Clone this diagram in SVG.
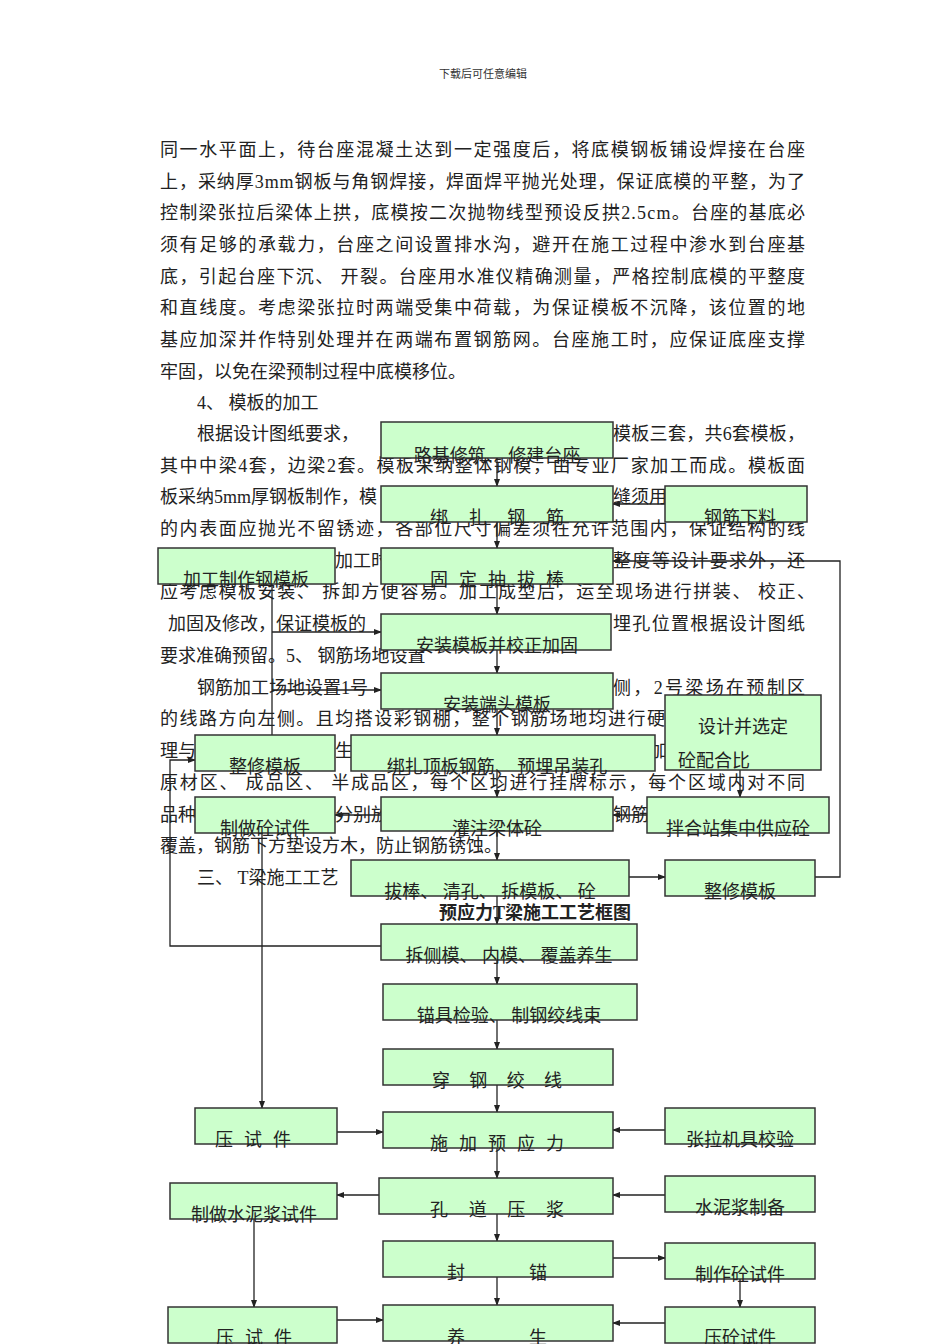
<svg xmlns="http://www.w3.org/2000/svg" width="950" height="1344" viewBox="0 0 950 1344">
<style>
.t{font-family:"Liberation Serif","Noto Sans CJK SC",serif;font-size:18px;fill:#222}
.b rect{fill:#ccffcc;stroke:#333;stroke-width:1.5}
.b text{font-family:"Liberation Serif","Noto Sans CJK SC",serif;font-size:18px;fill:#222;text-anchor:middle}
.c path{fill:none;stroke:#222;stroke-width:1.3}
</style>
<defs><marker id="a" markerWidth="8" markerHeight="8" refX="7" refY="4" orient="auto" markerUnits="userSpaceOnUse"><path d="M0,1 L8,4 L0,7 z" fill="#222"/></marker></defs>
<rect width="950" height="1344" fill="#fff"/>
<text x="483" y="78" style="font-family:'Noto Sans CJK SC',sans-serif;font-size:11px;fill:#333;text-anchor:middle">下载后可任意编辑</text>
<g class="t">
<text x="160" y="156" textLength="645" lengthAdjust="spacing">同一水平面上，待台座混凝土达到一定强度后，将底模钢板铺设焊接在台座</text>
<text x="160" y="188" textLength="645" lengthAdjust="spacing">上，采纳厚3mm钢板与角钢焊接，焊面焊平抛光处理，保证底模的平整，为了</text>
<text x="160" y="219" textLength="645" lengthAdjust="spacing">控制梁张拉后梁体上拱，底模按二次抛物线型预设反拱2.5cm。台座的基底必</text>
<text x="160" y="251" textLength="645" lengthAdjust="spacing">须有足够的承载力，台座之间设置排水沟，避开在施工过程中渗水到台座基</text>
<text x="160" y="283" textLength="645" lengthAdjust="spacing">底，引起台座下沉、 开裂。台座用水准仪精确测量，严格控制底模的平整度</text>
<text x="160" y="314" textLength="645" lengthAdjust="spacing">和直线度。考虑梁张拉时两端受集中荷载，为保证模板不沉降，该位置的地</text>
<text x="160" y="346" textLength="645" lengthAdjust="spacing">基应加深并作特别处理并在两端布置钢筋网。台座施工时，应保证底座支撑</text>
<text x="160" y="378">牢固，以免在梁预制过程中底模移位。</text>
<text x="197" y="409">4、 模板的加工</text>
<text x="197" y="440">根据设计图纸要求，</text>
<text x="613" y="440" textLength="192" lengthAdjust="spacing">模板三套，共6套模板，</text>
<text x="160" y="472" textLength="645" lengthAdjust="spacing">其中中梁4套，边梁2套。模板采纳整体钢模，由专业厂家加工而成。模板面</text>
<text x="160" y="503">板采纳5mm厚钢板制作，模</text>
<text x="613" y="503">缝须用</text>
<text x="160" y="535" textLength="645" lengthAdjust="spacing">的内表面应抛光不留锈迹，各部位尺寸偏差须在允许范围内，保证结构的线</text>
<text x="335" y="567">加工时</text>
<text x="613" y="567" textLength="192" lengthAdjust="spacing">整度等设计要求外，还</text>
<text x="160" y="598" textLength="655" lengthAdjust="spacing">应考虑模板安装、 拆卸方便容易。加工成型后，运至现场进行拼装、 校正、</text>
<text x="168" y="630">加固及修改，保证模板的</text>
<text x="613" y="630" textLength="192" lengthAdjust="spacing">埋孔位置根据设计图纸</text>
<text x="160" y="662">要求准确预留。5、 钢筋场地设置</text>
<text x="197" y="694">钢筋加工场地设置1号</text>
<text x="613" y="694" textLength="192" lengthAdjust="spacing">侧，2号梁场在预制区</text>
<text x="160" y="725" textLength="505" lengthAdjust="spacing">的线路方向左侧。且均搭设彩钢棚，整个钢筋场地均进行硬</text>
<text x="160" y="757">理与</text>
<text x="335" y="757">生</text>
<text x="650" y="757">加</text>
<text x="160" y="789" textLength="645" lengthAdjust="spacing">原材区、 成品区、 半成品区，每个区均进行挂牌标示，每个区域内对不同</text>
<text x="160" y="821">品种</text>
<text x="335" y="821">分别放</text>
<text x="613" y="821">钢筋</text>
<text x="160" y="852">覆盖，钢筋下方垫设方木，防止钢筋锈蚀。</text>
<text x="197" y="884">三、 T梁施工工艺</text>
<text x="535" y="919" style="font-weight:bold;text-anchor:middle">预应力T梁施工工艺框图</text>
</g>
<g class="c">
<path d="M497,458V486" marker-end="url(#a)"/>
<path d="M497,522V548" marker-end="url(#a)"/>
<path d="M497,584V614" marker-end="url(#a)"/>
<path d="M497,650V673" marker-end="url(#a)"/>
<path d="M497,709V735" marker-end="url(#a)"/>
<path d="M497,771V797" marker-end="url(#a)"/>
<path d="M497,831V860" marker-end="url(#a)"/>
<path d="M497,896V924" marker-end="url(#a)"/>
<path d="M497,960V984" marker-end="url(#a)"/>
<path d="M497,1020V1049" marker-end="url(#a)"/>
<path d="M497,1085V1112" marker-end="url(#a)"/>
<path d="M497,1148V1178" marker-end="url(#a)"/>
<path d="M497,1214V1241" marker-end="url(#a)"/>
<path d="M497,1277V1305" marker-end="url(#a)"/>
<path d="M665,504H613" marker-end="url(#a)"/>
<path d="M272,584V735"/>
<path d="M272,632H381" marker-end="url(#a)"/>
<path d="M272,690H381" marker-end="url(#a)"/>
<path d="M381,946H170V760H195" marker-end="url(#a)"/>
<path d="M262,833V1108" marker-end="url(#a)"/>
<path d="M381,815H335" marker-end="url(#a)"/>
<path d="M647,815H613" marker-end="url(#a)"/>
<path d="M740,770V797" marker-end="url(#a)"/>
<path d="M629,877H665" marker-end="url(#a)"/>
<path d="M815,877H840V561H613" marker-end="url(#a)"/>
<path d="M337,1132H383" marker-end="url(#a)"/>
<path d="M665,1130H613" marker-end="url(#a)"/>
<path d="M379,1195H337" marker-end="url(#a)"/>
<path d="M665,1195H613" marker-end="url(#a)"/>
<path d="M254,1219V1307" marker-end="url(#a)"/>
<path d="M613,1258H665" marker-end="url(#a)"/>
<path d="M740,1279V1307" marker-end="url(#a)"/>
<path d="M337,1320H383" marker-end="url(#a)"/>
<path d="M665,1323H613" marker-end="url(#a)"/>
</g>
<g class="b">
<g id="n1"><rect x="381" y="422" width="232" height="36"/><text x="497" y="462">路基修筑、 修建台座</text></g>
<g id="n2"><rect x="381" y="486" width="232" height="36"/><text x="497" y="524" textLength="134" lengthAdjust="spacing">绑 扎 钢 筋</text></g>
<g id="n3"><rect x="665" y="486" width="142" height="36"/><text x="740" y="524">钢筋下料</text></g>
<g id="n4"><rect x="158" y="548" width="177" height="36"/><text x="246" y="586">加工制作钢模板</text></g>
<g id="n5"><rect x="381" y="548" width="232" height="36"/><text x="497" y="586" textLength="134" lengthAdjust="spacing">固 定 抽 拔 棒</text></g>
<g id="n6"><rect x="381" y="614" width="230" height="36"/><text x="497" y="652">安装模板并校正加固</text></g>
<g id="n7"><rect x="381" y="673" width="232" height="36"/><text x="497" y="711">安装端头模板</text></g>
<g id="n8"><rect x="665" y="695" width="156" height="75"/><text x="743" y="733">设计并选定</text><text x="714" y="767">砼配合比</text></g>
<g id="n9"><rect x="195" y="735" width="140" height="36"/><text x="265" y="773">整修模板</text></g>
<g id="n10"><rect x="351" y="735" width="304" height="36"/><text x="497" y="773">绑扎顶板钢筋、 预埋吊装孔</text></g>
<g id="n11"><rect x="195" y="797" width="140" height="36"/><text x="265" y="835">制做砼试件</text></g>
<g id="n12"><rect x="381" y="797" width="232" height="34"/><text x="497" y="835">灌注梁体砼</text></g>
<g id="n13"><rect x="647" y="797" width="182" height="36"/><text x="738" y="835">拌合站集中供应砼</text></g>
<g id="n14"><rect x="351" y="860" width="278" height="36"/><text x="490" y="898">拔棒、 清孔、 拆模板、 砼</text></g>
<g id="n15"><rect x="665" y="860" width="150" height="36"/><text x="740" y="898">整修模板</text></g>
<g id="n16"><rect x="381" y="924" width="256" height="36"/><text x="509" y="962">拆侧模、 内模、 覆盖养生</text></g>
<g id="n17"><rect x="383" y="984" width="254" height="36"/><text x="509" y="1022">锚具检验、 制钢绞线束</text></g>
<g id="n18"><rect x="383" y="1049" width="230" height="36"/><text x="497" y="1087" textLength="130" lengthAdjust="spacing">穿 钢 绞 线</text></g>
<g id="n19"><rect x="195" y="1108" width="142" height="36"/><text x="253" y="1146" textLength="76" lengthAdjust="spacing">压 试 件</text></g>
<g id="n20"><rect x="383" y="1112" width="230" height="36"/><text x="497" y="1150" textLength="134" lengthAdjust="spacing">施 加 预 应 力</text></g>
<g id="n21"><rect x="665" y="1108" width="150" height="36"/><text x="740" y="1146">张拉机具校验</text></g>
<g id="n22"><rect x="170" y="1183" width="167" height="36"/><text x="254" y="1221">制做水泥浆试件</text></g>
<g id="n23"><rect x="379" y="1178" width="234" height="36"/><text x="497" y="1216" textLength="134" lengthAdjust="spacing">孔 道 压 浆</text></g>
<g id="n24"><rect x="665" y="1176" width="150" height="36"/><text x="740" y="1214">水泥浆制备</text></g>
<g id="n25"><rect x="383" y="1241" width="230" height="36"/><text x="497" y="1279" textLength="100" lengthAdjust="spacing">封          锚</text></g>
<g id="n26"><rect x="665" y="1243" width="150" height="36"/><text x="740" y="1281">制作砼试件</text></g>
<g id="n27"><rect x="168" y="1307" width="169" height="36"/><text x="254" y="1344" textLength="76" lengthAdjust="spacing">压 试 件</text></g>
<g id="n28"><rect x="383" y="1305" width="230" height="36"/><text x="497" y="1344" textLength="100" lengthAdjust="spacing">养          生</text></g>
<g id="n29"><rect x="665" y="1307" width="150" height="36"/><text x="740" y="1344">压砼试件</text></g>
</g>
</svg>
